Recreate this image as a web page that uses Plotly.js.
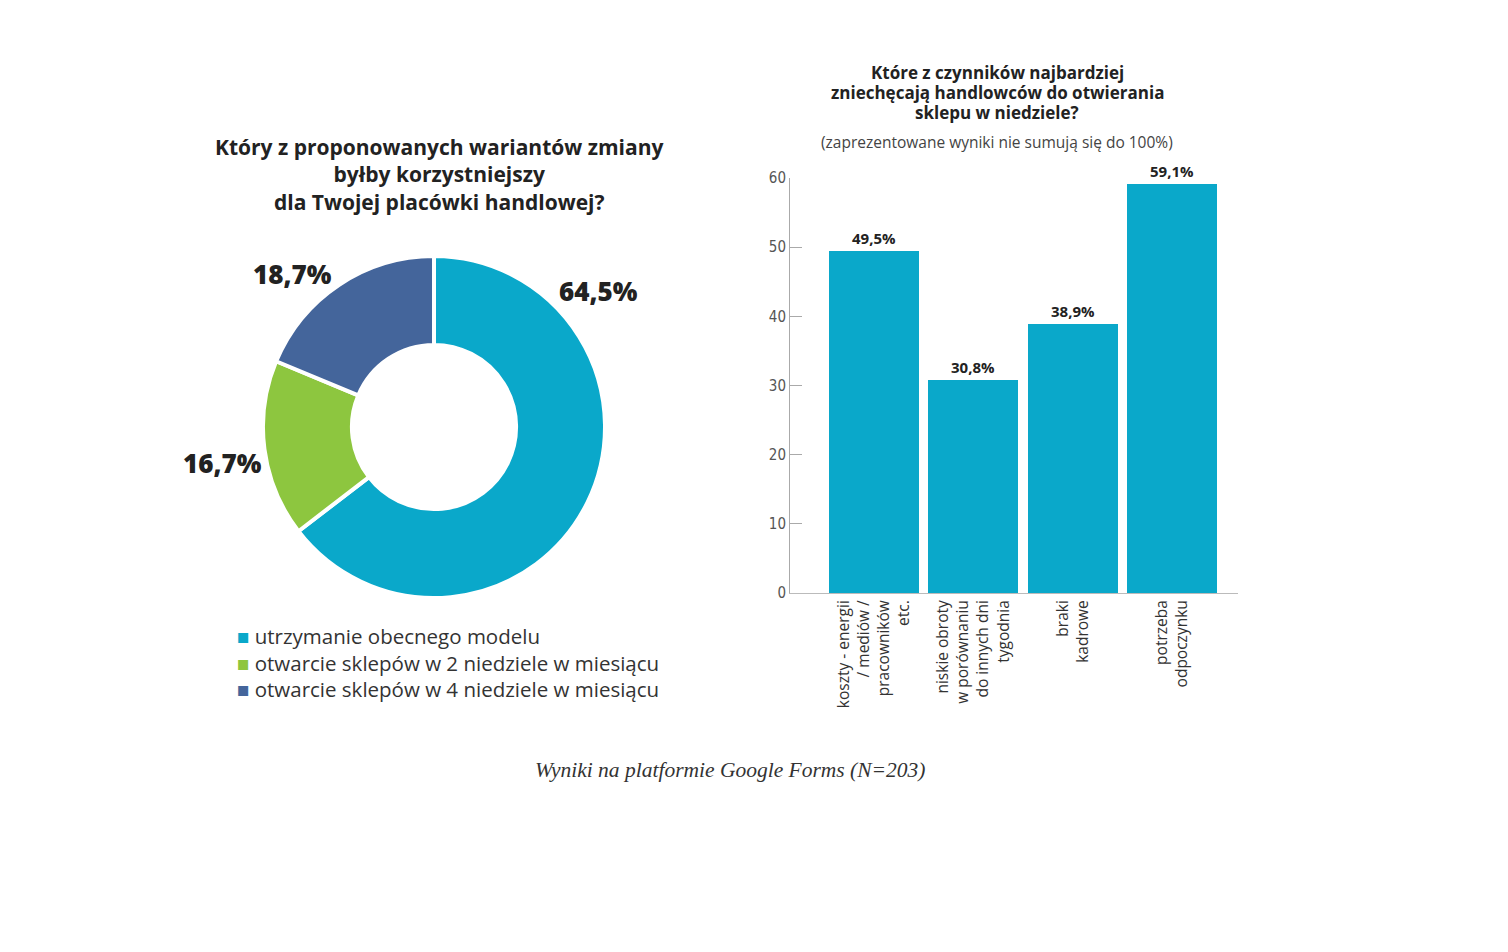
<!DOCTYPE html>
<html>
<head>
<meta charset="utf-8">
<script src="https://cdn.plot.ly/plotly-3.0.1.min.js"></script>
<style>html,body{margin:0;padding:0;background:#fff;}#chart{width:1508px;height:952px;}</style>
</head>
<body>
<div id="chart"></div>
<script>
// Pie data
const pieLabels = ["utrzymanie obecnego modelu", "otwarcie sklepów w 2 niedziele w miesiącu", "otwarcie sklepów w 4 niedziele w miesiącu"];
const pieValues = [64.5, 16.7, 18.7];
const pieColors = ["#0aa8ca", "#8dc63f", "#44659b"];

// Bar data
const barCategories = ["koszty - energii<br>/ mediów /<br>pracowników<br>etc.", "niskie obroty<br>w porównaniu<br>do innych dni<br>tygodnia", "braki<br>kadrowe", "potrzeba<br>odpoczynku"];
const barValues = [49.5, 30.8, 38.9, 59.1];
const yTicks = [0, 10, 20, 30, 40, 50, 60];

// Texts
const pieTitleLines = ["Który z proponowanych wariantów zmiany", "byłby korzystniejszy", "dla Twojej placówki handlowej?"];
const barTitleLines = ["Które z czynników najbardziej", "zniechęcają handlowców do otwierania", "sklepu w niedziele?"];
const barSubtitle = "(zaprezentowane wyniki nie sumują się do 100%)";
const footer = "Wyniki na platformie Google Forms (N=203)";

const fmt = v => v.toFixed(1).replace('.', ',') + '%';

const W = 1508, H = 952;
const px = x => x / W;
const py = y => 1 - y / H;

const pie = {
  type: 'pie',
  labels: pieLabels,
  values: pieValues,
  sort: false,
  direction: 'clockwise',
  rotation: 0,
  hole: 0.48,
  textinfo: 'none',
  hoverinfo: 'label+percent',
  marker: {colors: pieColors, line: {color: '#ffffff', width: 4}},
  domain: {x: [px(263), px(605)], y: [py(598), py(256)]},
  showlegend: false
};

const bar = {
  type: 'bar',
  x: barCategories,
  y: barValues,
  xaxis: 'x', yaxis: 'y',
  width: 0.906,
  marker: {color: '#0aa8ca'},
  text: barValues.map(fmt),
  textposition: 'outside',
  textfont: {family: 'Open Sans, sans-serif', size: 15, color: '#222', weight: 700},
  cliponaxis: false,
  showlegend: false,
  hoverinfo: 'x+y'
};

// pie label annotations (positions of labels)
const pieLabelPos = [[598, 291], [222, 463], [292, 274]];
const annotations = pieValues.map((v, i) => ({
  xref: 'paper', yref: 'paper',
  x: px(pieLabelPos[i][0]), y: py(pieLabelPos[i][1]),
  xanchor: 'center', yanchor: 'middle',
  text: fmt(v), showarrow: false,
  font: {family: 'Open Sans, sans-serif', size: 26, color: '#222', weight: 800}
}));

// legend block built from pie labels/colours
annotations.push({
  xref: 'paper', yref: 'paper', x: px(235), y: py(662.5), xanchor: 'left', yanchor: 'middle',
  align: 'left', showarrow: false,
  text: pieLabels.map((lab, i) => '<span style="color:' + pieColors[i] + '">■</span> ' + lab).join('<br>'),
  font: {family: 'Open Sans, sans-serif', size: 20.5, color: '#333'}
});

annotations.push({
  xref: 'paper', yref: 'paper', x: px(439), y: py(174.5), xanchor: 'center', yanchor: 'middle',
  showarrow: false, text: pieTitleLines.join('<br>'),
  font: {family: 'Open Sans, sans-serif', size: 21, color: '#222', weight: 700}
});

const barTitleY = [73, 92.5, 112];
barTitleLines.forEach((t, i) => annotations.push({
  xref: 'paper', yref: 'paper', x: px(997), y: py(barTitleY[i]), xanchor: 'center', yanchor: 'middle',
  showarrow: false, text: t,
  font: {family: 'Open Sans, sans-serif', size: 17, color: '#222', weight: 700}
}));

annotations.push(
  {xref: 'paper', yref: 'paper', x: px(997), y: py(142), xanchor: 'center', yanchor: 'middle',
   showarrow: false, text: barSubtitle,
   font: {family: 'Open Sans, sans-serif', size: 15.5, color: '#444'}},
  {xref: 'paper', yref: 'paper', x: px(730), y: py(770), xanchor: 'center', yanchor: 'middle',
   showarrow: false, text: footer,
   font: {family: 'Liberation Serif, serif', size: 21.5, color: '#333', style: 'italic'}}
);

const layout = {
  width: W, height: H,
  margin: {l: 0, r: 0, t: 0, b: 0},
  paper_bgcolor: '#ffffff',
  plot_bgcolor: 'rgba(0,0,0,0)',
  showlegend: false,
  xaxis: {
    domain: [px(790), px(1238)],
    range: [-0.846, 3.665],
    type: 'category',
    showline: true, linecolor: '#bbbbbb', linewidth: 1,
    ticks: '', tickangle: -90,
    tickfont: {family: 'Open Sans, sans-serif', size: 15.5, color: '#333'},
    showgrid: false, zeroline: false, fixedrange: true
  },
  yaxis: {
    domain: [py(593), py(178)],
    range: [0, 60],
    tickvals: yTicks,
    ticktext: yTicks.map(String),
    ticks: 'inside', ticklen: 12, tickcolor: '#aaaaaa', tickwidth: 1,
    showline: true, linecolor: '#aaaaaa', linewidth: 1,
    tickfont: {family: 'Liberation Sans Narrow, DejaVu Sans Condensed, sans-serif', size: 15, color: '#555'},
    showgrid: false, zeroline: false, fixedrange: true
  },
  annotations: annotations,
  bargap: 0
};

Plotly.newPlot('chart', [pie, bar], layout, {displayModeBar: false});
</script>
</body>
</html>
